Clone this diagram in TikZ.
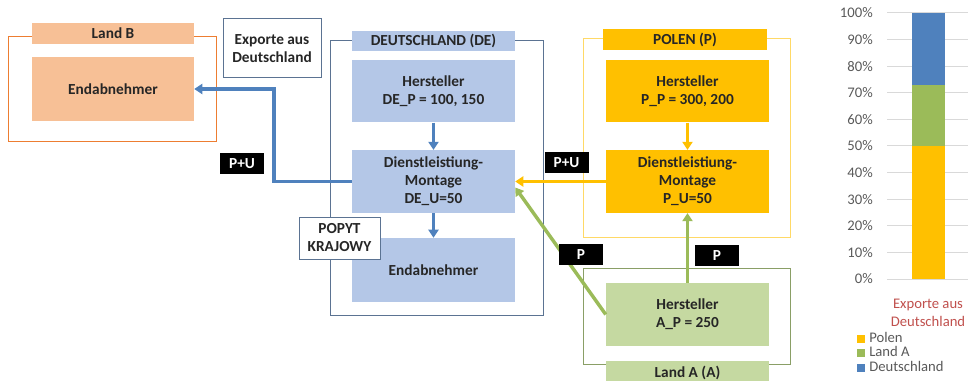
\documentclass[tikz,border=0pt]{standalone}
\usepackage{fontspec}
\setmainfont{Carlito}
\usetikzlibrary{arrows.meta,calc}

\definecolor{txt}{HTML}{262626}
\definecolor{defill}{HTML}{B4C7E7}
\definecolor{deline}{HTML}{4F81BD}
\definecolor{deframe}{HTML}{5B7392}
\definecolor{plfill}{HTML}{FFC000}
\definecolor{plframe}{HTML}{FFD966}
\definecolor{lafill}{HTML}{C5D9A1}
\definecolor{laline}{HTML}{9BBB59}
\definecolor{laframe}{HTML}{8A9F66}
\definecolor{lbfill}{HTML}{F7C096}
\definecolor{lbframe}{HTML}{ED7D31}
\definecolor{axisgray}{HTML}{595959}
\definecolor{gridgray}{HTML}{D9D9D9}
\definecolor{chartblue}{HTML}{4F81BD}
\definecolor{chartgreen}{HTML}{9BBB59}
\definecolor{chartred}{HTML}{C0504D}

\begin{document}
\begin{tikzpicture}[x=0.75pt,y=-0.75pt, >={Triangle[length=6pt,width=7.5pt]},
  box/.style={minimum width=122.25pt, minimum height=47pt, inner sep=1pt,
    align=center, text=txt, font=\fontsize{11.5}{13.5}\selectfont\bfseries},
  head/.style={box, minimum height=15.5pt},
  tag/.style={fill=black, text=white, minimum width=33pt, minimum height=15.75pt,
    inner sep=0pt, font=\fontsize{11.5}{13.5}\selectfont\bfseries},
  note/.style={draw=deframe, line width=0.75pt, fill=white, inner sep=1pt, align=center,
    text=txt, font=\fontsize{11.5}{13.5}\selectfont\bfseries},
  frame/.style={line width=0.75pt},
  flow/.style={->, line width=2.6pt},
  ticklabel/.style={anchor=east, text=axisgray, inner sep=0pt, font=\fontsize{11}{13}\selectfont}]
\useasboundingbox (0,0) rectangle (973,381);

% frames
\draw[frame, draw=lbframe] (8,37) rectangle (216,142);
\draw[frame, draw=deframe] (330,41) rectangle (543,315);
\draw[frame, draw=plframe] (583,39) rectangle (790,237);
\draw[frame, draw=laframe] (583,268) rectangle (790,364);

% Land B
\node[head, fill=lbfill, minimum width=121.5pt] (headB) at (113,33.5) {Land B};
\node[box, fill=lbfill, minimum width=121.5pt, minimum height=48pt] (endB) at (113,89) {Endabnehmer};
\node[note, minimum width=73.5pt, minimum height=44.25pt] (exp) at (272,48.5) {Exporte aus\\Deutschland};

% Deutschland
\node[head, fill=defill] (headDE) at (433.5,41) {DEUTSCHLAND (DE)};
\node[box, fill=defill] (makDE) at (433.5,91) {Hersteller\\DE\_P = 100, 150};
\node[box, fill=defill] (svcDE) at (433.5,181.5) {Dienstleistiung-\\Montage\\DE\_U=50};
\node[box, fill=defill, minimum height=48pt] (endDE) at (433.5,270) {Endabnehmer};
\node[note, minimum width=60.75pt, minimum height=31.5pt] (home) at (339.5,238) {POPYT\\KRAJOWY};

% Polen
\node[head, fill=plfill, minimum width=123pt] (headPL) at (685,39.5) {POLEN (P)};
\node[box, fill=plfill] (makPL) at (687.5,91) {Hersteller\\P\_P = 300, 200};
\node[box, fill=plfill] (svcPL) at (687.5,181.5) {Dienstleistiung-\\Montage\\P\_U=50};

% Land A
\node[box, fill=lafill] (makA) at (687.5,314.5) {Hersteller\\A\_P = 250};
\node[head, fill=lafill, minimum height=18pt] (headA) at (687.5,373) {Land A (A)};

% flows
\draw[flow, draw=deline] (makDE) -- (svcDE);
\draw[flow, draw=deline] (svcDE) -- (endDE);
\draw[flow, draw=deline] (svcDE.west) -- (274,181.5) |- (endB.east);
\draw[flow, draw=plfill] (makPL) -- (svcPL);
\draw[flow, draw=plfill] (svcPL.west) -- (svcDE.east);
\draw[flow, draw=laline] (makA) -- (svcPL);
\draw[flow, draw=laline] (makA.west) -- ([yshift=-4.5pt]svcDE.east);

% tags
\node[tag] (puB) at (242,163.5) {P+U};
\node[tag] (puPL) at (566.5,162.5) {P+U};
\node[tag] (pA1) at (581,254.5) {P};
\node[tag] (pA2) at (717,255.5) {P};

% chart
\foreach \k in {0,...,10}{
  \draw[gridgray, line width=0.75pt] (887,{279-26.6*\k}) -- (968,{279-26.6*\k});
  \node[ticklabel] at (873,{279-26.6*\k}) {\the\numexpr\k*10\relax\%};
}
\fill[plfill] (912,279) rectangle (945,146);
\fill[chartgreen] (912,146) rectangle (945,85);
\fill[chartblue] (912,85) rectangle (945,13);
\node[text=chartred, align=center, inner sep=0pt, font=\fontsize{11}{13.5}\selectfont] (cat) at (928,313) {Exporte aus\\Deutschland};
\foreach \c/\t [count=\i] in {plfill/Polen, chartgreen/Land A, chartblue/Deutschland}{
  \fill[\c] (857,{338.5+14.5*(\i-1)+4}) rectangle +(8,-8);
  \node[anchor=base west, text=axisgray, inner sep=0pt, font=\fontsize{11}{13}\selectfont] at (869,{342+14.5*(\i-1)}) {\t};
}
\end{tikzpicture}
\end{document}
